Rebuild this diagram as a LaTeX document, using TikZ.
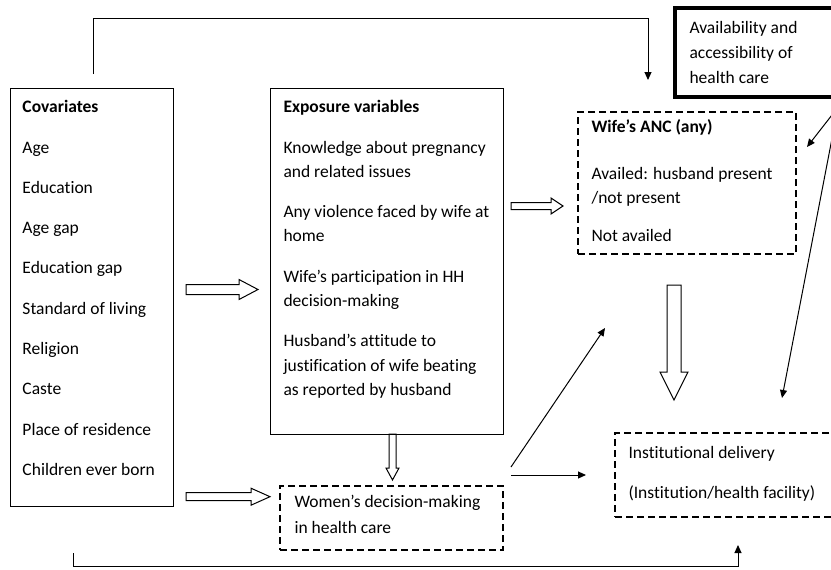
\documentclass[tikz,border=0pt]{standalone}
\usepackage{fontspec}
\setmainfont[Ligatures=NoCommon]{Carlito}
\usetikzlibrary{arrows.meta,calc,positioning}
\tikzset{
  every picture/.style={line width=1pt, line join=miter,
    >={Triangle[length=8pt,width=7pt]}},
  % Rahmen
  box/.style={draw, anchor=north west, inner sep=0pt, outer sep=0pt},
  dbox/.style={box, line width=1.2pt, dash pattern=on 7pt off 4pt},
  heavy/.style={box, line width=4pt},
  % Text in den Kaesten
  txt/.style={anchor=north west, inner sep=0pt, align=left,
    font=\fontsize{17.5}{#1}\selectfont},
  txt/.default=24.5,
  link/.style={line width=1pt, ->},
}
% hohle Pfeile (waagrecht / senkrecht): Start, Ziel, Schaft, Kopfbreite, Kopflaenge
\newcommand{\hollowright}[5]{%
  \draw let \p1=(#1), \p2=(#2) in
    (\x1,{\y1-#3pt/2}) -- ({\x2-#5pt},{\y1-#3pt/2}) -- ({\x2-#5pt},{\y1-#4pt/2}) -- (\x2,\y1)
    -- ({\x2-#5pt},{\y1+#4pt/2}) -- ({\x2-#5pt},{\y1+#3pt/2}) -- (\x1,{\y1+#3pt/2}) -- cycle;}
\newcommand{\hollowdown}[5]{%
  \draw let \p1=(#1), \p2=(#2) in
    ({\x1-#3pt/2},\y1) -- ({\x1-#3pt/2},{\y2+#5pt}) -- ({\x1-#4pt/2},{\y2+#5pt}) -- (\x1,\y2)
    -- ({\x1+#4pt/2},{\y2+#5pt}) -- ({\x1+#3pt/2},{\y2+#5pt}) -- ({\x1+#3pt/2},\y1) -- cycle;}

\begin{document}
\begin{tikzpicture}[x=1pt, y=-1pt]
  \useasboundingbox (0,0) rectangle (831,570);
  % Kaesten
  \node[box, minimum width=163pt, minimum height=418pt] (cov) at (10,88) {};
  \node[box, minimum width=233pt, minimum height=346pt] (exp) at (270,88) {};
  \node[dbox, minimum width=218pt, minimum height=142pt] (anc) at (578,112) {};
  \node[heavy, minimum width=180pt, minimum height=89pt] (avail) at (675,8) {};
  \node[dbox, minimum width=230pt, minimum height=84pt] (inst) at (615,433) {};
  \node[dbox, minimum width=223pt, minimum height=64pt] (wom) at (280,486) {};
  % Texte
  \node[txt=40.3] at (22,100) {\textbf{Covariates}\\Age\\Education\\Age gap\\Education gap\\
    Standard of living\\Religion\\Caste\\Place of residence\\Children ever born};
  \node[txt] at (283,100) {\textbf{Exposure variables}\\[16pt]
    Knowledge about pregnancy\\and related issues\\[15pt]
    Any violence faced by wife at\\home\\[16pt]
    Wife’s participation in HH\\decision-making\\[15.5pt]
    Husband’s attitude to\\justification of wife beating\\as reported by husband};
  \node[txt] at (591,119) {\textbf{Wife’s ANC (any)}\\[22.5pt]
    Availed: husband present\\/not present\\[13.5pt]Not availed};
  \node[txt=25] at (689,21) {Availability and\\accessibility of\\health care};
  \node[txt] at (628,446) {Institutional delivery\\[15.5pt](Institution/health facility)};
  \node[txt=25.5] at (294,495) {Women’s decision-making\\in health care};
  % hohle Pfeile
  \hollowright{$(cov.east)+(13,-7.5)$}{$(exp.west)+(-12,0)$}{10}{20}{19}
  \hollowright{$(exp.east)+(8,-55)$}{$(anc.west)+(-15,0)$}{7}{16}{12}
  \hollowdown{$(anc.south)+(-13,31)$}{$(inst.north)+(0,-33)$}{14}{28}{28}
  \hollowdown{$(exp.south)+(6,0)$}{$(wom.north)+(0,-6)$}{7}{13}{12}
  \hollowright{$(cov.east)+(13,199.7)$}{$(wom.west)+(-10,0)$}{8}{17}{19}
  % Linien mit Pfeilspitze
  \coordinate (anctop) at (648,80);
  \draw[link] ([xshift=1.5pt,yshift=14pt]cov.north) -- ++(0,-56) -| (anctop);
  \coordinate (covbot) at (73,553);
  \draw[link] (covbot) -- ++(0,13) -| ($(inst.south west)+(123,28)$);
  \draw[link] ($(wom.east)+(8,-51)$) -- ($(anc.south west)+(27,74)$);
  \draw[link] ($(wom.east |- inst.west)+(8,0)$) -- ($(inst.west)+(-29,0)$);
  \draw[link] ($(avail.south west)+(171,0)$) -- ($(anc.east)+(11,-36)$);
  \draw[link] ($(avail.south west)+(165,0)$) -- ($(inst.north west)+(167,-35)$);
\end{tikzpicture}
\end{document}
